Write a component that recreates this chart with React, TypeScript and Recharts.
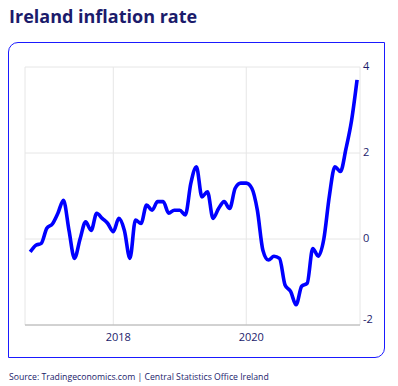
import { LineChart, Line, XAxis, YAxis, CartesianGrid } from "recharts";

// monthly annual inflation, Oct 2016 .. Sep 2021
const months = [
  "2016-10", "2016-11", "2016-12",
  "2017-01", "2017-02", "2017-03", "2017-04", "2017-05", "2017-06",
  "2017-07", "2017-08", "2017-09", "2017-10", "2017-11", "2017-12",
  "2018-01", "2018-02", "2018-03", "2018-04", "2018-05", "2018-06",
  "2018-07", "2018-08", "2018-09", "2018-10", "2018-11", "2018-12",
  "2019-01", "2019-02", "2019-03", "2019-04", "2019-05", "2019-06",
  "2019-07", "2019-08", "2019-09", "2019-10", "2019-11", "2019-12",
  "2020-01", "2020-02", "2020-03", "2020-04", "2020-05", "2020-06",
  "2020-07", "2020-08", "2020-09", "2020-10", "2020-11", "2020-12",
  "2021-01", "2021-02", "2021-03", "2021-04", "2021-05", "2021-06",
  "2021-07", "2021-08", "2021-09",
];

const inflation = [
  -0.3, -0.15, -0.1,
  0.25, 0.35, 0.6, 0.9, 0.2, -0.45,
  0.0, 0.4, 0.2, 0.6, 0.48, 0.36,
  0.17, 0.48, 0.2, -0.45, 0.44, 0.36,
  0.79, 0.67, 0.87, 0.87, 0.6, 0.67,
  0.67, 0.56, 1.3, 1.68, 0.98, 1.1,
  0.48, 0.71, 0.87, 0.71, 1.18, 1.3,
  1.3, 1.18, 0.67, -0.26, -0.49, -0.4,
  -0.45, -1.07, -1.22, -1.53, -1.1, -1.03,
  -0.22, -0.4, 0.0, 1.0, 1.68, 1.57,
  2.1, 2.75, 3.7,
];

const yTicks = [-2, 0, 2, 4];
const xTickMonths = ["2018-01", "2020-01"];
const xTickLabels = ["2018", "2020"];

const data = months.map((m, i) => ({ idx: i, month: m, value: inflation[i] }));
const xTicks = xTickMonths.map((m) => months.indexOf(m));

const NAVY = "#1b1b6b";
const FONT = "'Open Sans', sans-serif";

const YTick = (props: any) => {
  const { x, y, payload } = props;
  const shift = payload.value === -2 ? -6 : -1;
  return (
    <text x={x} y={y + shift} dy="0.355em" fill={NAVY} fontSize={11} fontFamily={FONT} textAnchor="start">
      {payload.value}
    </text>
  );
};

export default function App() {
  return (
    <div style={{ position: "absolute", left: 0, top: 0, width: 398, height: 386, background: "#fff", fontFamily: FONT }}>
      <div style={{ position: "absolute", left: 9, top: 4, fontSize: 18, fontWeight: 700, color: NAVY }}>
        Ireland inflation rate
      </div>
      <div
        style={{
          position: "absolute",
          left: 8,
          top: 42,
          width: 375,
          height: 314,
          border: "1.5px solid #1a1aff",
          borderRadius: "10px 0 10px 0",
        }}
      />
      <div style={{ position: "absolute", left: 0, top: 0 }}>
        <LineChart width={398} height={386} data={data} margin={{ top: 67, right: 8, bottom: 31, left: 25 }}>
          <CartesianGrid stroke="#e6e6e6" horizontal vertical />
          <XAxis
            dataKey="idx"
            type="number"
            domain={[-0.94, 59.53]}
            ticks={xTicks}
            tickFormatter={(v: number) => xTickLabels[xTicks.indexOf(v)] ?? ""}
            axisLine={{ stroke: "#b0b0b0" }}
            tickLine={false}
            tickSize={0}
            tickMargin={8}
            height={30}
            dx={5}
            tick={{ fill: NAVY, fontSize: 11, fontFamily: FONT }}
            allowDataOverflow
          />
          <YAxis
            orientation="right"
            type="number"
            domain={[-2, 4]}
            ticks={yTicks}
            width={30}
            axisLine={false}
            tickLine={false}
            tickSize={0}
            tickMargin={3}
            tick={<YTick />}
          />
          <Line
            type="monotone"
            dataKey="value"
            stroke="#0000ff"
            strokeWidth={3.6}
            dot={false}
            isAnimationActive={false}
          />
        </LineChart>
      </div>
      <div style={{ position: "absolute", left: 9, top: 371, fontSize: 8.7, color: NAVY }}>
        Source: Tradingeconomics.com | Central Statistics Office Ireland
      </div>
    </div>
  );
}
